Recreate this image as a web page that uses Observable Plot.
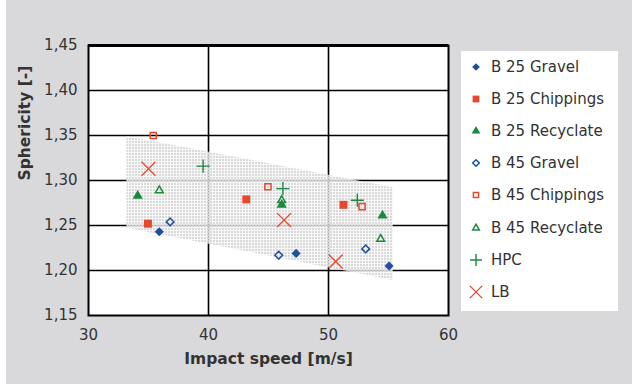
<!DOCTYPE html>
<html><head><meta charset="utf-8">
<script src="https://cdn.jsdelivr.net/npm/d3@7"></script>
<script src="https://cdn.jsdelivr.net/npm/@observablehq/plot@0.6"></script>
<style>
body{margin:0;background:#fff;font-family:"DejaVu Sans",sans-serif;}
#wrap{position:relative;width:632px;height:389px;background:#fff;overflow:hidden}
#bg{position:absolute;left:6px;top:0;width:626px;height:384px;background:#d9d9db}
#chart{position:absolute;left:0;top:0}
#legend{position:absolute;left:461px;top:51px;width:157px;height:260px;background:#fff}
.item{position:absolute;left:0;height:20px;display:flex;align-items:center;font-size:15px;color:#333;white-space:nowrap}
.item svg{margin-left:5px;margin-right:5px}
</style></head>
<body>
<div id="wrap"><div id="bg"></div><div id="chart"></div><div id="legend"></div></div>
<script>
// ---- data ----
const xTicks = [30, 40, 50, 60];
const yTicks = [1.15, 1.20, 1.25, 1.30, 1.35, 1.40, 1.45];
const b25Gravel    = [[35.9, 1.243], [47.3, 1.219], [55.05, 1.205]];
const b25Chippings = [[34.95, 1.252], [43.15, 1.279], [51.25, 1.273]];
const b25Recyclate = [[34.1, 1.283], [46.1, 1.273], [54.5, 1.261]];
const b45Gravel    = [[36.8, 1.254], [45.85, 1.217], [53.1, 1.224]];
const b45Chippings = [[35.4, 1.350], [44.95, 1.293], [52.8, 1.271]];
const b45Recyclate = [[35.9, 1.289], [46.1, 1.278], [54.35, 1.235]];
const hpc          = [[39.55, 1.316], [46.2, 1.291], [52.4, 1.278]];
const lb           = [[35.0, 1.313], [46.3, 1.256], [50.6, 1.210]];
const bandX    = [33.2, 55.4];
const bandLow  = [1.247, 1.189];
const bandHigh = [1.349, 1.292];
const seriesNames = ["B 25 Gravel", "B 25 Chippings", "B 25 Recyclate", "B 45 Gravel", "B 45 Chippings", "B 45 Recyclate", "HPC", "LB"];

const blue = "#1f4f9e", red = "#e5482d", green = "#1b8a3c";
const series = [
  {name: seriesNames[0], data: b25Gravel,    symbol: "diamond2",  fill: blue,  r: 4.1},
  {name: seriesNames[1], data: b25Chippings, symbol: "square",    fill: red,   r: 4.5},
  {name: seriesNames[2], data: b25Recyclate, symbol: "triangle",  fill: green, r: 3.8},
  {name: seriesNames[3], data: b45Gravel,    symbol: "diamond2",  stroke: blue,  r: 3.5},
  {name: seriesNames[4], data: b45Chippings, symbol: "square2",   stroke: red,   r: 3.9},
  {name: seriesNames[5], data: b45Recyclate, symbol: "triangle2", stroke: green, r: 3.7},
  {name: seriesNames[6], data: hpc,          symbol: "plus",      stroke: green, r: 4.3, sw: 1.4},
  {name: seriesNames[7], data: lb,           symbol: "times",     stroke: red,   r: 6.4, sw: 1.3}
];

const band = bandX.map((x, i) => ({x, lo: bandLow[i], hi: bandHigh[i]}));
const fmt = d => d.toFixed(2).replace(".", ",");

const dotMarks = series.map(s => Plot.dot(s.data, {
  x: d => d[0], y: d => d[1], symbol: s.symbol, r: s.r,
  fill: s.fill ? s.fill : "none",
  stroke: s.stroke ? s.stroke : "none",
  strokeWidth: s.sw ?? 1.5
}));

const svg = Plot.plot({
  width: 470, height: 389,
  marginLeft: 88, marginRight: 22, marginTop: 45, marginBottom: 74,
  style: {background: "transparent", fontFamily: "DejaVu Sans, sans-serif", fontSize: "15px", color: "#333"},
  x: {domain: [30, 60]},
  y: {domain: [1.15, 1.45]},
  marks: [
    Plot.frame({fill: "white", stroke: "none"}),
    Plot.gridY(yTicks.slice(1, -1), {stroke: "black", strokeOpacity: 1, strokeWidth: 1.6}),
    Plot.gridX(xTicks.slice(1, -1), {stroke: "black", strokeOpacity: 1, strokeWidth: 1.6}),
    Plot.areaY(band, {x: "x", y1: "lo", y2: "hi", fill: "url(#dots)"}),
    Plot.frame({stroke: "black", strokeWidth: 2}),
    Plot.ruleY([1.45], {stroke: "black", strokeWidth: 3}),
    ...dotMarks,
    Plot.axisX(xTicks, {tickSize: 0, tickPadding: 14, fontSize: 15, fill: "#333", label: null}),
    Plot.axisY(yTicks, {tickSize: 0, tickPadding: 11, fontSize: 15, fill: "#333", tickFormat: fmt, label: null}),
    Plot.text(["Impact speed [m/s]"], {frameAnchor: "bottom", dy: 48, fontWeight: "bold", fontSize: 15.5, fill: "#333"}),
    Plot.text(["Sphericity [-]"], {frameAnchor: "left", dx: -63, rotate: -90, fontWeight: "bold", fontSize: 15.5, fill: "#333"})
  ]
});

const defs = d3.select(svg).insert("defs", ":first-child");
const pat = defs.append("pattern").attr("id", "dots").attr("width", 3).attr("height", 3).attr("patternUnits", "userSpaceOnUse");
pat.append("rect").attr("width", 3).attr("height", 3).attr("fill", "#f4f4f4").attr("fill-opacity", 0.7);
pat.append("rect").attr("width", 2).attr("height", 2).attr("fill", "#d6d6d6").attr("fill-opacity", 0.85);

document.getElementById("chart").appendChild(svg);

// legend
const symMap = {diamond2: d3.symbolDiamond2, square: d3.symbolSquare, triangle: d3.symbolTriangle,
  square2: d3.symbolSquare2, triangle2: d3.symbolTriangle2, plus: d3.symbolPlus, times: d3.symbolTimes};
const leg = d3.select("#legend");
series.forEach((s, i) => {
  const item = leg.append("div").attr("class", "item").style("top", (6 + i * 32.1) + "px");
  const sv = item.append("svg").attr("width", 20).attr("height", 20);
  const rr = s.symbol === "plus" ? 3.9 : s.symbol === "times" ? 5.6 : s.r * 0.85;
  sv.append("path")
    .attr("transform", "translate(10,10)")
    .attr("d", d3.symbol(symMap[s.symbol], Math.PI * rr * rr)())
    .attr("fill", s.fill || "none").attr("stroke", s.stroke || "none").attr("stroke-width", s.sw ?? 1.5);
  item.append("span").text(s.name);
});
</script>
</body></html>
